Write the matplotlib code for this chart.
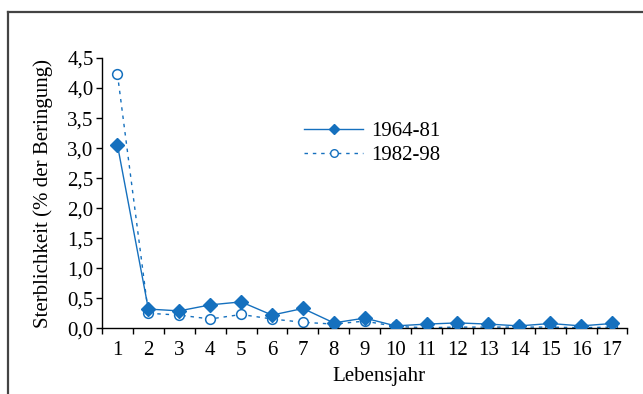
import matplotlib
matplotlib.use("Agg")
import matplotlib.pyplot as plt
from matplotlib.lines import Line2D
from matplotlib.ticker import FixedLocator, FuncFormatter

years = list(range(1, 18))
mort_1964_81 = [3.05, 0.32, 0.29, 0.39, 0.44, 0.22, 0.33, 0.09, 0.17, 0.04,
                0.07, 0.09, 0.07, 0.04, 0.08, 0.04, 0.08]
mort_1982_98 = [4.23, 0.25, 0.22, 0.155, 0.23, 0.155, 0.10, 0.07, 0.12, 0.03,
                0.01, 0.02, 0.02, 0.02, 0.02, 0.01, 0.02]
labels = ["1964-81", "1982-98"]
yticks = [0.0, 0.5, 1.0, 1.5, 2.0, 2.5, 3.0, 3.5, 4.0, 4.5]

plt.rcParams["font.family"] = ["Liberation Serif", "DejaVu Serif"]
blue = "#1570be"
fs = 15

fig = plt.figure(figsize=(6.43, 3.94), dpi=100)
ax = fig.add_axes([102 / 643, 1 - 328.3 / 394, (627.5 - 102) / 643, (328.3 - 58) / 394])

ax.plot(years, mort_1964_81, color=blue, lw=1.0, marker="D", ms=7.5,
        mfc=blue, mec=blue, zorder=3)
ax.plot(years, mort_1982_98, color=blue, lw=1.0, ls=(0, (2.5, 3.5)), marker="o",
        ms=7, mfc="white", mec=blue, mew=1.1, zorder=2)

ax.set_xlim(0.5, 17.5)
ax.set_ylim(0, 4.5)
ax.set_xticks(years)
ax.set_xticklabels([str(y) for y in years])
ax.xaxis.set_minor_locator(FixedLocator([y - 0.5 for y in years] + [17.5]))
ax.tick_params(axis="x", which="major", length=0, pad=9, labelsize=fs)
ax.tick_params(axis="x", which="minor", length=4, width=1, direction="out")
ax.set_yticks(yticks)
ax.yaxis.set_major_formatter(FuncFormatter(lambda v, p: f"{v:.1f}".replace(".", ",")))
ax.tick_params(axis="y", length=4, width=1, direction="out", pad=2, labelsize=fs)

for s in ["top", "right"]:
    ax.spines[s].set_visible(False)
for s in ["left", "bottom"]:
    ax.spines[s].set_linewidth(1.0)

ax.set_xlabel("Lebensjahr", fontsize=fs, labelpad=7)
ax.xaxis.set_label_coords(0.527, -0.145)
ax.set_ylabel("Sterblichkeit (% der Beringung)", fontsize=fs, labelpad=10)

handles = [
    Line2D([], [], color=blue, lw=1.0, marker="D", ms=5, mfc=blue, mec=blue),
    Line2D([], [], color=blue, lw=1.0, ls=(0, (2.5, 3.5)), marker="o", ms=5.5,
           mfc="white", mec=blue),
]
fig.legend(handles, labels, loc="upper left", bbox_to_anchor=(296 / 643, 1 - 113 / 394),
           frameon=False, fontsize=fs, handlelength=2.8, handletextpad=0.4,
           labelspacing=0.22, borderaxespad=0)

# outer frame around the figure
fig.add_artist(Line2D([8 / 643, 1.0], [1 - 12 / 394, 1 - 12 / 394],
                      transform=fig.transFigure, color="#444444", lw=1.6))
fig.add_artist(Line2D([8 / 643, 8 / 643], [0.0, 1 - 12 / 394],
                      transform=fig.transFigure, color="#444444", lw=1.6))

fig.savefig("out.png", dpi=100)
